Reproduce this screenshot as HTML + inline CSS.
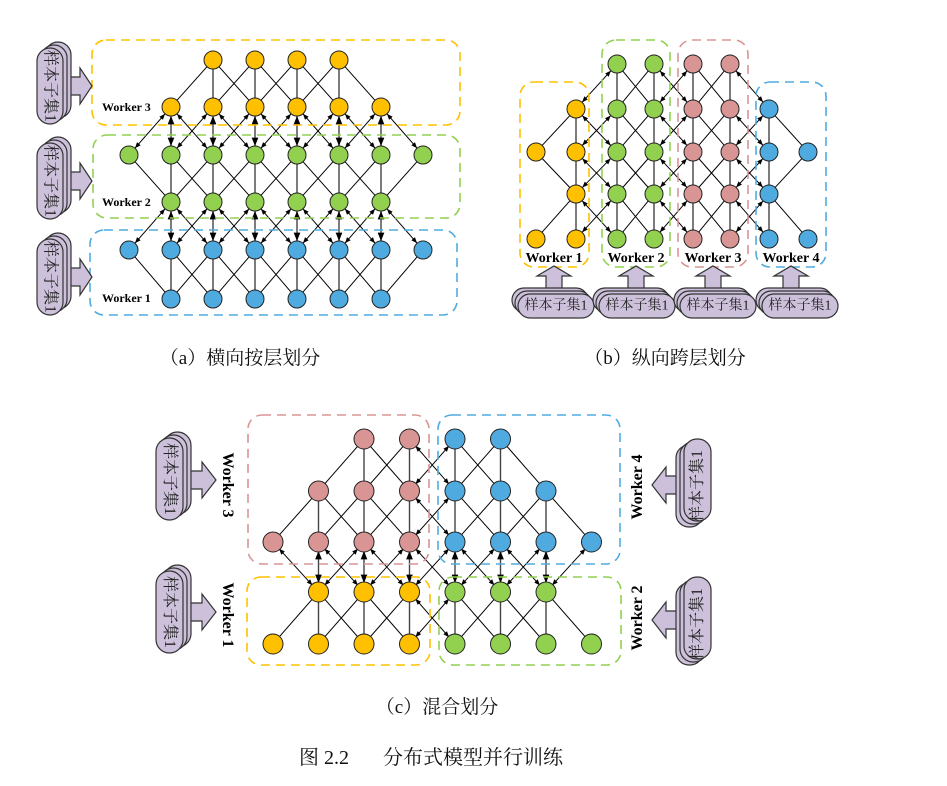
<!DOCTYPE html>
<html><head><meta charset="utf-8"><style>
html,body{margin:0;padding:0;background:#fff;width:947px;height:786px;overflow:hidden}
svg{display:block}
.w{font-family:"Liberation Serif",serif;font-weight:bold;fill:#000}
.cap{font-family:"Liberation Serif","Noto Serif CJK SC",serif;fill:#111}
.st{font-family:"Liberation Serif","Noto Serif CJK SC",serif;fill:#222}
</style></head><body>
<svg id="s" width="947" height="786" viewBox="0 0 947 786" xmlns="http://www.w3.org/2000/svg">
<defs>
<marker id="ah" viewBox="0 0 10 10" refX="10" refY="5" markerWidth="6" markerHeight="6" orient="auto-start-reverse"><path d="M0,1 L10,5 L0,9 z" fill="#000"/></marker>
</defs>
<g id="edges"></g>
<g id="nodes"></g>
<g id="deco"></g>
<text class="w" x="102" y="111" font-size="12">Worker 3</text>
<text class="w" x="102" y="206" font-size="12">Worker 2</text>
<text class="w" x="102" y="302" font-size="12">Worker 1</text>
<text class="w" x="554" y="262" text-anchor="middle" font-size="14">Worker 1</text>
<text class="w" x="636" y="262" text-anchor="middle" font-size="14">Worker 2</text>
<text class="w" x="713" y="262" text-anchor="middle" font-size="14">Worker 3</text>
<text class="w" x="791" y="262" text-anchor="middle" font-size="14">Worker 4</text>
<text class="w" font-size="16" transform="translate(223,485) rotate(90)" text-anchor="middle">Worker 3</text>
<text class="w" font-size="16" transform="translate(223,615) rotate(90)" text-anchor="middle">Worker 1</text>
<text class="w" font-size="16" transform="translate(642,487) rotate(-90)" text-anchor="middle">Worker 4</text>
<text class="w" font-size="16" transform="translate(642,618) rotate(-90)" text-anchor="middle">Worker 2</text>
<text class="cap" x="240" y="364" text-anchor="middle" font-size="19">（a）横向按层划分</text>
<text class="cap" x="665" y="364" text-anchor="middle" font-size="19">（b）纵向跨层划分</text>
<text class="cap" x="437" y="713" text-anchor="middle" font-size="19">（c）混合划分</text>
<text class="cap" x="299" y="764" font-size="20">图 2.2</text>
<text class="cap" x="383" y="764" font-size="20">分布式模型并行训练</text>
</svg>
<script>
var NS="http://www.w3.org/2000/svg";
var E=document.getElementById('edges'),N=document.getElementById('nodes'),D=document.getElementById('deco');
function el(p,t,a){var e=document.createElementNS(NS,t);for(var k in a)e.setAttribute(k,a[k]);p.appendChild(e);return e;}
var C={y:'#ffc000',g:'#92d050',b:'#4fabdf',r:'#d99594'};
var R=9;
function edge(a,b,arrow){
 var dx=b.x-a.x,dy=b.y-a.y,L=Math.sqrt(dx*dx+dy*dy),ux=dx/L,uy=dy/L;
 var at={x1:a.x+ux*R,y1:a.y+uy*R,x2:b.x-ux*R,y2:b.y-uy*R,stroke:(dx==0||dy==0)?'#444':'#000','stroke-width':(dx==0||dy==0)?1.4:1};
 if(arrow){at['marker-start']='url(#ah)';at['marker-end']='url(#ah)';}
 el(E,'line',at);
}
function node(n,r){el(N,'circle',{cx:n.x,cy:n.y,r:r||R,fill:C[n.c],stroke:'#222','stroke-width':1});}
function box(x,y,w,h,c){el(D,'rect',{x:x,y:y,width:w,height:h,rx:14,fill:'none',stroke:c,'stroke-width':1.6,'stroke-dasharray':'9,6'});}
(function(){
 var xs=[],i;for(i=0;i<8;i++)xs.push(129+42*i);
 var ys=[60,107,155,202,250,299];
 var rows=[[2,5,'y'],[1,6,'y'],[0,7,'g'],[1,6,'g'],[0,7,'b'],[1,6,'b']];
 var L=rows.map(function(r,ri){var a={};for(var k=r[0];k<=r[1];k++)a[k]={x:xs[k],y:ys[ri],c:r[2]};return a;});
 for(var ri=0;ri<5;ri++)for(var k in L[ri]){k=+k;for(var d=-1;d<=1;d++){var m=L[ri+1][k+d];if(m)edge(L[ri][k],m,L[ri][k].c!=m.c);}}
 L.forEach(function(a){for(var k in a)node(a[k]);});
 box(92,40,368,85,C.y);box(93,135,367,83,C.g);box(90,230,367,85,C.b);
})();
(function(){
 var xs=[536,576,617,654,693,730,769,808],ys=[64,109,152,194,239];
 var cols=[[[2,4],'y'],[[1,2,3,4],'y'],[[0,1,2,3,4],'g'],[[0,1,2,3,4],'g'],[[0,1,2,3,4],'r'],[[0,1,2,3,4],'r'],[[1,2,3,4],'b'],[[2,4],'b']];
 var G=cols.map(function(c,ci){var a={};c[0].forEach(function(r){a[r]={x:xs[ci],y:ys[r],c:c[1]};});return a;});
 for(var ci=0;ci<8;ci++){for(var r in G[ci]){r=+r;var n=G[ci][r];
  if(G[ci][r+1])edge(n,G[ci][r+1],false);
  if(ci<7)[-1,1].forEach(function(d){var m=G[ci+1][r+d];if(m)edge(n,m,n.c!=m.c);});}}
 G.forEach(function(a){for(var k in a)node(a[k]);});
 box(520,82,69,185,C.y);box(602,40,68,227,C.g);box(678,40,70,227,C.r);box(756,82,70,185,C.b);
})();
(function(){
 var xs=[],i;for(i=0;i<8;i++)xs.push(273+45.5*i);
 var ys=[439,491,542,592,644];
 var spec=[[[2,3,'r'],[4,5,'b']],[[1,3,'r'],[4,6,'b']],[[0,3,'r'],[4,7,'b']],[[1,3,'y'],[4,6,'g']],[[0,3,'y'],[4,7,'g']]];
 var L=spec.map(function(s,ri){var a={};s.forEach(function(p){for(var k=p[0];k<=p[1];k++)a[k]={x:xs[k],y:ys[ri],c:p[2]};});return a;});
 for(var ri=0;ri<4;ri++)for(var k in L[ri]){k=+k;for(var d=-1;d<=1;d++){var m=L[ri+1][k+d];if(m)edge(L[ri][k],m,L[ri][k].c!=m.c);}}
 L.forEach(function(a){for(var k in a)node(a[k],10);});
 box(248,415,181,149,C.r);box(438,415,182,149,C.b);box(247,577,183,88,C.y);box(439,577,182,88,C.g);
})();
var P='#ccc0da',S='#333';
function vstack(x,y,w,h,dx,dy,rot){
 for(var i=2;i>=0;i--)el(D,'rect',{x:x+dx*i,y:y+dy*i,width:w,height:h,rx:w/2,fill:P,stroke:S,'stroke-width':1.2});
 var t=el(D,'text',{'class':'st',transform:'translate('+(x+w/2)+','+(y+h/2)+') rotate('+rot+')','text-anchor':'middle','dominant-baseline':'central','font-size':16});
 t.textContent='样本子集1';
}
function hstack(x,y,w,h){
 for(var i=2;i>=0;i--)el(D,'rect',{x:x-3*i,y:y-3*i,width:w,height:h,rx:h/2,fill:P,stroke:S,'stroke-width':1.2});
 var t=el(D,'text',{'class':'st',x:x+w/2,y:y+h/2,'text-anchor':'middle','dominant-baseline':'central','font-size':14});
 t.textContent='样本子集1';
}
function arrowR(x0,x1,x2,cy,sh,hh){el(D,'polygon',{points:[x0,cy-sh,x1,cy-sh,x1,cy-hh,x2,cy,x1,cy+hh,x1,cy+sh,x0,cy+sh].join(' '),fill:P,stroke:S,'stroke-width':1.2});}
function arrowU(cx,y0,y1,y2,sw,hw){el(D,'polygon',{points:[cx-sw,y0,cx-sw,y1,cx-hw,y1,cx,y2,cx+hw,y1,cx+sw,y1,cx+sw,y0].join(' '),fill:P,stroke:S,'stroke-width':1.2});}
[[48,86],[143,181],[239,277]].forEach(function(p){arrowR(60,80,92,p[1],9,18);vstack(37,p[0],26,76,4,-3,90);});
[[554,512],[636,593],[713,674],[791,756]].forEach(function(p){arrowU(p[0],291,276,266,8,17);hstack(p[1]+6,294,76,24);});
[[432,480],[565,612]].forEach(function(p){arrowR(185,202,216,p[1],9,18);vstack(156,p[0]+6,27,82,4,-3,90);});
[[437,485],[575,620]].forEach(function(p){arrowR(685,666,652,p[1],9,18);});
[437,575].forEach(function(y0){
  var x=684,y=y0+8,w=27,h=82;
  for(var i=0;i<3;i++)el(D,'rect',{x:x-4*(2-i),y:y+3*(2-i)-6,width:w,height:h,rx:13,fill:P,stroke:S,'stroke-width':1.2});
  var t=el(D,'text',{'class':'st',transform:'translate('+(x+w/2)+','+(y+h/2)+') rotate(-90)','text-anchor':'middle','dominant-baseline':'central','font-size':16});
  t.textContent='样本子集1';
});
</script>
</body></html>
